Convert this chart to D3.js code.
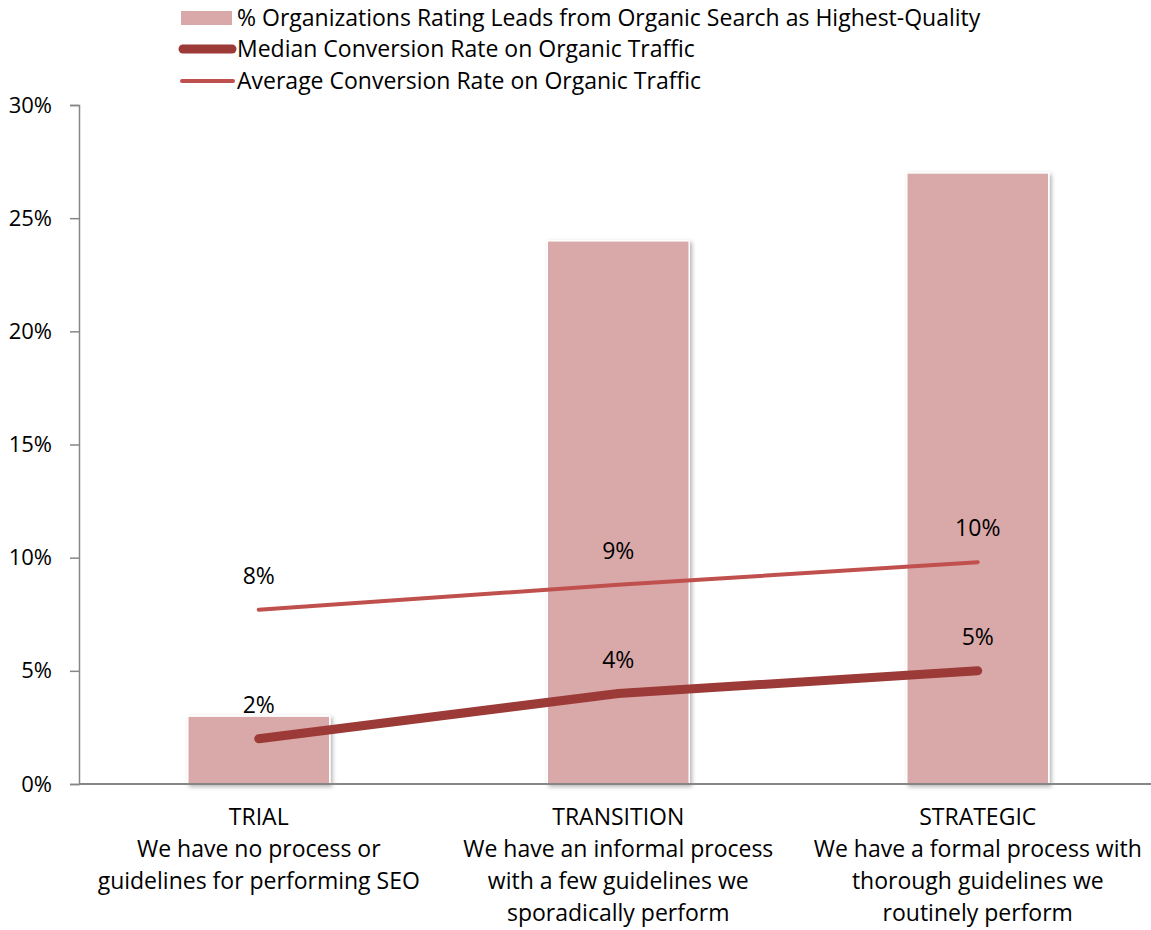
<!DOCTYPE html>
<html>
<head>
<meta charset="utf-8">
<script src="https://cdn.jsdelivr.net/npm/d3@7"></script>
<style>
  html, body { margin: 0; padding: 0; background: #ffffff; }
  svg { display: block; }
  text { font-family: "Open Sans", "Noto Sans", sans-serif; fill: #000; }
</style>
</head>
<body>
<svg id="chart" width="1151" height="930"></svg>
<script>
// Maturity stages of the SEO process
const stages = ["TRIAL", "TRANSITION", "STRATEGIC"];
const stageDescriptions = [
  ["We have no process or", "guidelines for performing SEO"],
  ["We have an informal process", "with a few guidelines we", "sporadically perform"],
  ["We have a formal process with", "thorough guidelines we", "routinely perform"]
];

// % of organizations rating organic-search leads as highest quality
const highestQualityPct = [3, 24, 27];
// Conversion rates on organic traffic
const medianConversion = [2.0, 4.0, 5.0];
const averageConversion = [7.7, 8.8, 9.8];

const yTicks = [0, 5, 10, 15, 20, 25, 30];

const seriesNames = [
  "% Organizations Rating Leads from Organic Search as Highest-Quality",
  "Median Conversion Rate on Organic Traffic",
  "Average Conversion Rate on Organic Traffic"
];

const colors = {
  bar: "#d9a9a9",
  median: "#9b3a37",
  average: "#c0504d",
  axis: "#868686"
};

const FONT = 23;

const svg = d3.select("#chart");
const margin = { left: 79, top: 105, bottom: 784 };
const plotRight = 79 + 3 * 359.5;

const x = d3.scaleBand()
  .domain(stages)
  .range([margin.left, plotRight])
  .paddingInner(0.605)
  .paddingOuter(0.3025);

const y = d3.scaleLinear()
  .domain([0, 30])
  .range([margin.bottom, margin.top]);

// Soft drop shadow under the bars
const defs = svg.append("defs");
const shadow = defs.append("filter")
  .attr("id", "barShadow")
  .attr("x", "-10%").attr("y", "-10%")
  .attr("width", "130%").attr("height", "130%");
shadow.append("feDropShadow")
  .attr("dx", 2).attr("dy", 2)
  .attr("stdDeviation", 2)
  .attr("flood-color", "#000")
  .attr("flood-opacity", 0.3);

// Bars
svg.append("g")
  .selectAll("rect")
  .data(stages)
  .join("rect")
  .attr("x", d => x(d))
  .attr("y", (d, i) => y(highestQualityPct[i]))
  .attr("width", x.bandwidth())
  .attr("height", (d, i) => y(0) - y(highestQualityPct[i]))
  .attr("fill", colors.bar)
  .attr("stroke", "#ffffff")
  .attr("stroke-width", 1.5)
  .attr("filter", "url(#barShadow)");

// Y axis
const yAxis = svg.append("g")
  .attr("transform", `translate(${margin.left},0)`)
  .call(d3.axisLeft(y).tickValues(yTicks).tickSize(9).tickPadding(18)
    .tickFormat(d => d + "%"));
yAxis.select(".domain").attr("stroke", colors.axis).attr("stroke-width", 1.5);
yAxis.selectAll(".tick line").attr("stroke", colors.axis).attr("stroke-width", 1.5);
yAxis.selectAll(".tick text")
  .attr("font-family", "Open Sans, sans-serif")
  .attr("font-size", 22)
  .attr("fill", "#000");

// X axis baseline
const xAxis = svg.append("g")
  .attr("transform", `translate(0,${margin.bottom})`)
  .call(d3.axisBottom(x).tickSize(0).tickFormat(""));
xAxis.select(".domain")
  .attr("d", `M${margin.left},0H1151`)
  .attr("stroke", colors.axis).attr("stroke-width", 2);

// Category labels
const catLabels = svg.append("g")
  .selectAll("text")
  .data(stages)
  .join("text")
  .attr("x", d => x(d) + x.bandwidth() / 2)
  .attr("y", 817)
  .attr("text-anchor", "middle")
  .attr("font-size", FONT);
catLabels.each(function(d, i) {
  const t = d3.select(this);
  [d].concat(stageDescriptions[i]).forEach((line, k) => {
    t.append("tspan")
      .attr("x", x(d) + x.bandwidth() / 2)
      .attr("y", 817 + k * 32)
      .attr("dy", "0.35em")
      .text(line);
  });
});

// Lines
const cx = d => x(d) + x.bandwidth() / 2;
const lineFor = values => d3.line()
  .x((d) => cx(d))
  .y((d, i) => y(values[i]));

svg.append("path")
  .datum(stages)
  .attr("d", lineFor(averageConversion))
  .attr("fill", "none")
  .attr("stroke", colors.average)
  .attr("stroke-width", 4)
  .attr("stroke-linecap", "round")
  .attr("stroke-linejoin", "round");

svg.append("path")
  .datum(stages)
  .attr("d", lineFor(medianConversion))
  .attr("fill", "none")
  .attr("stroke", colors.median)
  .attr("stroke-width", 9)
  .attr("stroke-linecap", "round")
  .attr("stroke-linejoin", "round");

// Value labels above each line point
const fmt = v => Math.round(v) + "%";
[averageConversion, medianConversion].forEach(values => {
  svg.append("g")
    .selectAll("text")
    .data(stages)
    .join("text")
    .attr("x", d => cx(d))
    .attr("y", (d, i) => y(values[i]) - 34)
    .attr("dy", "0.35em")
    .attr("text-anchor", "middle")
    .attr("font-size", FONT)
    .text((d, i) => fmt(values[i]));
});

// Legend
const legend = svg.append("g");
const legendRows = [18, 49, 81];
legend.append("rect")
  .attr("x", 181).attr("y", legendRows[0] - 7)
  .attr("width", 51).attr("height", 14)
  .attr("fill", colors.bar);
legend.append("line")
  .attr("x1", 183).attr("x2", 232)
  .attr("y1", legendRows[1]).attr("y2", legendRows[1])
  .attr("stroke", colors.median).attr("stroke-width", 9)
  .attr("stroke-linecap", "round");
legend.append("line")
  .attr("x1", 182).attr("x2", 233)
  .attr("y1", legendRows[2]).attr("y2", legendRows[2])
  .attr("stroke", colors.average).attr("stroke-width", 4)
  .attr("stroke-linecap", "round");
legend.selectAll("text.legend-label")
  .data(seriesNames)
  .join("text")
  .attr("class", "legend-label")
  .attr("x", 237)
  .attr("y", (d, i) => legendRows[i])
  .attr("dy", "0.35em")
  .attr("font-size", FONT)
  .text(d => d);
</script>
</body>
</html>
